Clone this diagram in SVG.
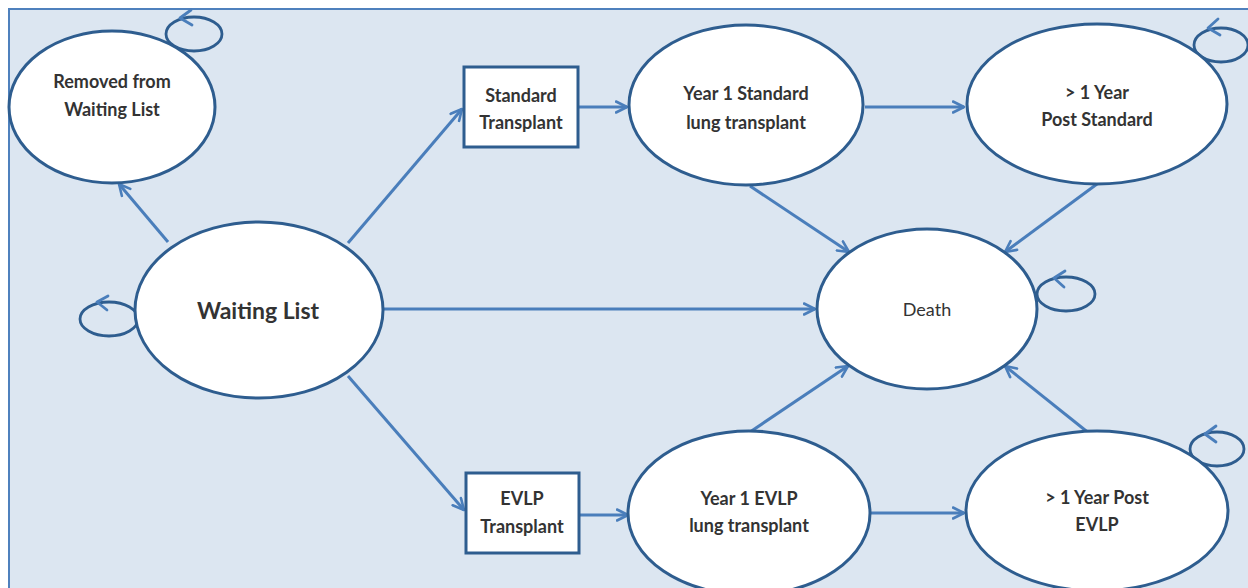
<svg xmlns="http://www.w3.org/2000/svg" width="1248" height="588" viewBox="0 0 1248 588">
<defs>
<marker id="ah" viewBox="0 0 14 14" refX="12.5" refY="7" markerWidth="14" markerHeight="14" markerUnits="userSpaceOnUse" orient="auto">
<path d="M1.5,1.5 L12.5,7 L1.5,12.5" fill="none" stroke="#4a7ebb" stroke-width="2.6" stroke-linecap="round" stroke-linejoin="round"/>
</marker>
</defs>
<style>
.node{fill:#fff;stroke:#2e5d8f;stroke-width:3}
.loop{fill:none;stroke:#2e5d8f;stroke-width:2.8}
.edge{fill:none;stroke:#4a7ebb;stroke-width:3;marker-end:url(#ah)}
.chev{fill:none;stroke:#4a7ebb;stroke-width:2.8;stroke-linecap:round;stroke-linejoin:round}
text{font-family:Lato,"Open Sans","Liberation Sans",sans-serif;font-size:18px;font-weight:bold;fill:#333;text-anchor:middle}
.big{font-size:23px}
.norm{font-weight:normal}
</style>
<rect x="0" y="0" width="1248" height="588" fill="#fff"/>
<rect x="9" y="9" width="1250" height="590" fill="#dce6f1" stroke="#4f81bd" stroke-width="2"/>
<g id="connectors">
<line class="edge" x1="168" y1="242" x2="119" y2="184"/>
<line class="edge" x1="348" y1="243" x2="462" y2="109"/>
<line class="edge" x1="578" y1="107" x2="627" y2="107"/>
<line class="edge" x1="865" y1="107" x2="964" y2="107"/>
<line class="edge" x1="750" y1="186" x2="849" y2="252"/>
<line class="edge" x1="1097" y1="184" x2="1005" y2="252"/>
<line class="edge" x1="384" y1="309" x2="815" y2="309"/>
<line class="edge" x1="348" y1="376" x2="464" y2="510"/>
<line class="edge" x1="579" y1="515" x2="628" y2="515"/>
<line class="edge" x1="750" y1="432" x2="848" y2="366"/>
<line class="edge" x1="870" y1="513" x2="964" y2="513"/>
<line class="edge" x1="1090" y1="434" x2="1005" y2="366"/>
</g>
<g id="loop-removed">
<ellipse class="loop" cx="194" cy="34" rx="28" ry="17"/>
<path class="chev" d="M191,10 L180,18 L192,25"/>
</g>
<g id="loop-waiting">
<ellipse class="loop" cx="109" cy="319" rx="29" ry="17"/>
<path class="chev" d="M108,296 L97,302 L107,310"/>
</g>
<g id="loop-post-standard">
<ellipse class="loop" cx="1221" cy="45" rx="27" ry="17"/>
<path class="chev" d="M1218,19 L1208,28 L1220,35"/>
</g>
<g id="loop-death">
<ellipse class="loop" cx="1066" cy="294" rx="29" ry="17"/>
<path class="chev" d="M1065,271 L1054,278 L1064,287"/>
</g>
<g id="loop-post-evlp">
<ellipse class="loop" cx="1217" cy="449" rx="27" ry="17"/>
<path class="chev" d="M1216,426 L1205,434 L1216,442"/>
</g>
<g id="removed">
<ellipse class="node" cx="112" cy="107" rx="103" ry="76"/>
<text x="112" y="88">Removed from</text>
<text x="112" y="116">Waiting List</text>
</g>
<g id="waiting-list">
<ellipse class="node" cx="259" cy="310" rx="124" ry="88"/>
<text class="big" x="258" y="319">Waiting List</text>
</g>
<g id="standard-transplant">
<rect class="node" x="464" y="67" width="114" height="80"/>
<text x="521" y="102">Standard</text>
<text x="521" y="129">Transplant</text>
</g>
<g id="year1-standard">
<ellipse class="node" cx="746" cy="105" rx="117" ry="80"/>
<text x="746" y="100">Year 1 Standard</text>
<text x="746" y="129">lung transplant</text>
</g>
<g id="post-standard">
<ellipse class="node" cx="1097" cy="104" rx="130" ry="80"/>
<text x="1097" y="99">&gt; 1 Year</text>
<text x="1097" y="126">Post Standard</text>
</g>
<g id="death">
<ellipse class="node" cx="927" cy="309" rx="110" ry="80"/>
<text class="norm" x="927" y="316">Death</text>
</g>
<g id="evlp-transplant">
<rect class="node" x="466" y="473" width="113" height="80"/>
<text x="522" y="505">EVLP</text>
<text x="522" y="533">Transplant</text>
</g>
<g id="year1-evlp">
<ellipse class="node" cx="749" cy="513" rx="121" ry="82"/>
<text x="749" y="505">Year 1 EVLP</text>
<text x="749" y="532">lung transplant</text>
</g>
<g id="post-evlp">
<ellipse class="node" cx="1097" cy="511" rx="131" ry="80"/>
<text x="1097" y="504">&gt; 1 Year Post</text>
<text x="1097" y="531">EVLP</text>
</g>
</svg>
